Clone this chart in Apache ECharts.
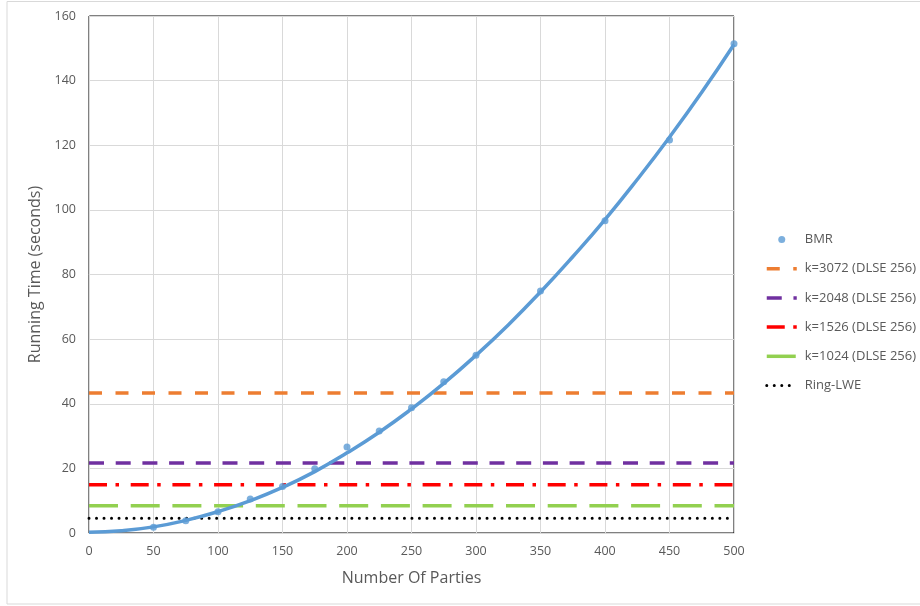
<!DOCTYPE html>
<html>
<head>
<meta charset="utf-8">
<script src="https://cdn.jsdelivr.net/npm/echarts@6/dist/echarts.min.js"></script>
<style>html,body{margin:0;padding:0;background:#fff}#c{width:920px;height:606px}</style>
</head>
<body>
<div id="c"></div>
<script>
// BMR measured points
const bmrX = [50, 75, 100, 125, 150, 175, 200, 225, 250, 275, 300, 350, 400, 450, 500];
const bmrY = [1.8, 3.8, 6.6, 10.5, 14.4, 19.9, 26.6, 31.6, 38.8, 46.8, 55.0, 74.9, 96.6, 121.6, 151.4];
// BMR trendline values
const trendX = [0, 25, 50, 75, 100, 125, 150, 175, 200, 225, 250, 275, 300, 325, 350, 375, 400, 425, 450, 475, 500];
const trendY = [0.2, 0.7, 1.9, 3.9, 6.6, 10.0, 14.1, 19.0, 24.8, 31.2, 38.4, 46.3, 55.0, 64.4, 74.6, 85.5, 97.0, 109.4, 122.5, 136.4, 151.2];
// constant reference series
const refNames = ['k=3072 (DLSE 256)', 'k=2048 (DLSE 256)', 'k=1526 (DLSE 256)', 'k=1024 (DLSE 256)', 'Ring-LWE'];
const refValues = [43.3, 21.7, 14.9, 8.4, 4.6];
const xRange = [0, 500];

const refStyles = [
  {color: '#ED7D31', width: 3.5, type: [13, 13.5], cap: 'butt'},
  {color: '#7030A0', width: 3.5, type: [15, 11.7], cap: 'butt'},
  {color: '#FF0000', width: 3.5, type: [18, 8.5, 3.5, 11.7], cap: 'butt'},
  {color: '#92D050', width: 3.5, type: [29, 12.7], cap: 'butt'},
  {color: '#000000', width: 3, type: [0.01, 7.5], cap: 'round'}
];

const chart = echarts.init(document.getElementById('c'));
const font = "'Open Sans', 'Liberation Sans', sans-serif";

const series = [
  {
    name: 'BMR', type: 'scatter', symbol: 'circle', symbolSize: 7,
    itemStyle: {color: '#5B9BD5'},
    data: bmrX.map((x, i) => [x, bmrY[i]]), z: 5
  },
  {
    name: 'BMR trend', type: 'line', smooth: true, symbol: 'none',
    lineStyle: {color: '#5B9BD5', width: 3.5},
    data: trendX.map((x, i) => [x, trendY[i]]), z: 4
  }
];
refNames.forEach((n, i) => {
  const s = refStyles[i];
  series.push({
    name: n, type: 'line', symbol: 'none',
    itemStyle: {color: s.color},
    lineStyle: {color: s.color, width: s.width, type: s.type, cap: s.cap},
    data: xRange.map(x => [x, refValues[i]]), z: 3
  });
});

chart.setOption({
  animation: false,
  backgroundColor: '#fff',
  textStyle: {fontFamily: font},
  grid: {left: 89, right: 186, top: 16, bottom: 73, show: true, borderColor: '#000', borderWidth: 1},
  graphic: [{
    type: 'rect', shape: {x: 7, y: 1.5, width: 920, height: 602.5},
    style: {fill: 'none', stroke: '#d9d9d9', lineWidth: 1}, silent: true, z: -1
  }],
  legend: {
    orient: 'vertical', left: 760, top: 228, itemGap: 16.2,
    itemWidth: 30, itemHeight: 7,
    lineStyle: {width: 3.5},
    data: [{name: 'BMR', icon: 'circle'}].concat(refNames.map((n, i) => ({
      name: n, itemStyle: {opacity: 0},
      lineStyle: {width: refStyles[i].width, type: refStyles[i].type, cap: refStyles[i].cap}
    }))),
    textStyle: {color: '#595959', fontSize: 13, fontFamily: font, padding: [0, 0, 0, 3]}
  },
  xAxis: {
    type: 'value', min: 0, max: 500, interval: 50,
    name: 'Number Of Parties', nameLocation: 'middle', nameGap: 37,
    nameTextStyle: {color: '#595959', fontSize: 16, fontFamily: font},
    axisLine: {show: true, lineStyle: {color: '#d9d9d9'}},
    axisTick: {show: false},
    axisLabel: {color: '#595959', fontSize: 12.5, margin: 12},
    splitLine: {show: true, lineStyle: {color: '#d9d9d9'}}
  },
  yAxis: {
    type: 'value', min: 0, max: 160, interval: 20,
    name: 'Running Time (seconds)', nameLocation: 'middle', nameGap: 46,
    nameTextStyle: {color: '#595959', fontSize: 16, fontFamily: font},
    axisLine: {show: true, lineStyle: {color: '#d9d9d9'}},
    axisTick: {show: false},
    axisLabel: {color: '#595959', fontSize: 12.5, margin: 13},
    splitLine: {show: true, lineStyle: {color: '#d9d9d9'}}
  },
  series: series
});
</script>
</body>
</html>
